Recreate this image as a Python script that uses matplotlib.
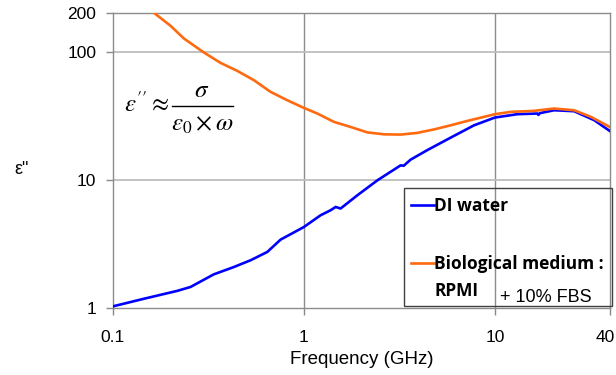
import matplotlib.pyplot as plt
from matplotlib.lines import Line2D
from matplotlib.patches import Rectangle
from matplotlib.ticker import NullLocator
from matplotlib.transforms import ScaledTranslation

plt.rcParams['font.family'] = ['Liberation Sans', 'DejaVu Sans']

freq_water = [0.1, 0.145, 0.217, 0.255, 0.337, 0.43, 0.526, 0.643, 0.755, 1.0,
              1.223, 1.38, 1.466, 1.556, 1.905, 2.43, 3.21, 3.33, 3.62, 4.43,
              5.87, 7.78, 10, 13.1, 16.7, 16.9, 17.2, 20.4, 26.0, 33.1, 40]
eps_water = [1.03, 1.18, 1.36, 1.46, 1.83, 2.09, 2.36, 2.74, 3.42, 4.29,
             5.30, 5.80, 6.15, 5.98, 7.59, 9.95, 13.0, 12.9, 14.4, 17.1,
             21.4, 26.7, 30.7, 32.6, 33.0, 32.2, 33.2, 35.0, 34.4, 29.3, 24.1]

freq_rpmi = [0.164, 0.2, 0.235, 0.299, 0.366, 0.448, 0.547, 0.669, 0.818, 1.0,
             1.175, 1.436, 1.757, 2.15, 2.63, 3.21, 3.93, 4.8, 5.87, 7.18,
             8.79, 10, 12.1, 16.0, 20.4, 26.0, 31.8, 40]
eps_rpmi = [201.7, 160.0, 127.3, 99.0, 82.0, 71.0, 60.1, 48.7, 41.9, 36.5,
            33.0, 28.4, 25.9, 23.5, 22.7, 22.6, 23.3, 24.8, 26.7, 28.9,
            31.1, 32.6, 34.0, 34.6, 36.1, 35.0, 31.1, 25.9]

x_ticks = [0.1, 1, 10, 40]
x_labels = ['0.1', '1', '10', '40']
y_ticks = [1, 10, 100, 200]
y_labels = ['1', '10', '100', '200']

blue = '#0000ff'
orange = '#ff6a10'
W, H = 616, 375

fig = plt.figure(figsize=(6.16, 3.75), dpi=100)
ax = fig.add_axes([0.1834, 0.1787, 0.8066, 0.7858])

ax.plot(freq_water, eps_water, color=blue, lw=1.9, zorder=3)
ax.plot(freq_rpmi, eps_rpmi, color=orange, lw=1.9, zorder=3)

ax.set_xscale('log')
ax.set_yscale('log')
ax.set_xlim(0.1, 40)
ax.set_ylim(1, 200)

ax.set_xticks(x_ticks)
ax.set_xticklabels(x_labels)
ax.set_yticks(y_ticks)
ax.set_yticklabels(y_labels)
ax.xaxis.set_minor_locator(NullLocator())
ax.yaxis.set_minor_locator(NullLocator())
ax.tick_params(axis='both', labelsize=12.5, color='#888888', length=5, width=1)
ax.tick_params(axis='x', pad=11)
ax.tick_params(axis='y', pad=7)
last = ax.get_xticklabels()[-1]
last.set_ha('right')
last.set_transform(last.get_transform() + ScaledTranslation(5 / 100, 0, fig.dpi_scale_trans))

# grid lines: vertical darker, horizontal lighter
for xv in [1, 10]:
    ax.axvline(xv, color='#8c8c8c', lw=1, zorder=1)
for yv in [10, 100]:
    ax.axhline(yv, color='#bdbdbd', lw=1.3, zorder=1)

for s in ax.spines.values():
    s.set_color('#8c8c8c')
    s.set_linewidth(1)

ax.set_xlabel('Frequency (GHz)', fontsize=13.5, labelpad=4)
fig.text(22 / W, 1 - 170 / H, 'ε"', fontsize=13, ha='center', va='center')

# formula eps'' ~ sigma / (eps0 x omega), built from pieces to get the wide fraction
math_kw = dict(fontsize=18, math_fontfamily='stix', va='baseline')
fig.text(124 / W, 1 - 112 / H, r'$\varepsilon^{\prime\prime}\approx$', ha='left', **math_kw)
fig.text(202 / W, 1 - 97 / H, r'$\sigma$', ha='center', **math_kw)
fig.add_artist(Line2D([172 / W, 233 / W], [1 - 106 / H, 1 - 106 / H],
                      transform=fig.transFigure, color='black', lw=1))
fig.text(202 / W, 1 - 131 / H, r'$\varepsilon_0\times\omega$', ha='center', **math_kw)

# legend: frame drawn separately so it can be sized like the original
fig.add_artist(Rectangle((404 / W, 1 - 306 / H), 208 / W, 118 / H,
                         transform=fig.transFigure, fill=False,
                         edgecolor='#404040', lw=1, zorder=5))
bold_font = {'weight': 'bold', 'size': 12.5, 'family': 'Open Sans'}
handles = [Line2D([], [], color=blue, lw=1.9),
           Line2D([], [], color=orange, lw=1.9)]
fig.legend(handles, ['DI water', 'Biological medium :'],
           loc='upper left', bbox_to_anchor=(411 / W, 1 - 197 / H),
           handlelength=1.3, handletextpad=0.0, labelspacing=2.3,
           borderaxespad=0, borderpad=0, frameon=False, prop=bold_font)
fig.text(434 / W, 1 - 291 / H, 'RPMI', va='center', fontweight='bold',
         fontsize=12.5, family='Open Sans')
fig.text(500 / W, 1 - 297 / H, '+ 10% FBS', fontsize=13, va='center')

fig.savefig('out.png', dpi=100)
